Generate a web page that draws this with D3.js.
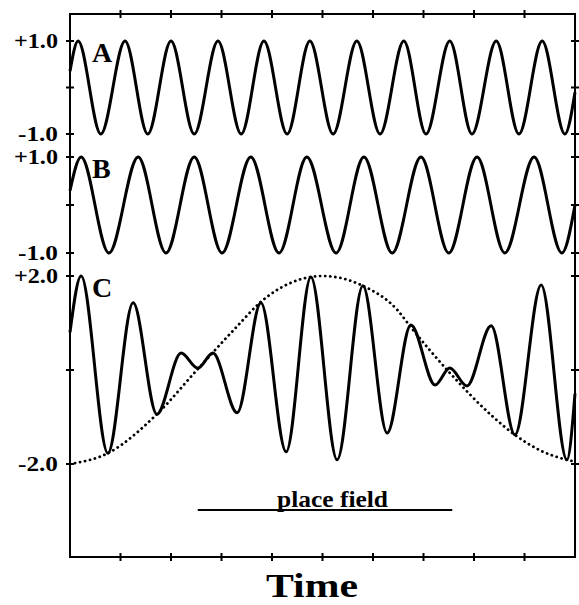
<!DOCTYPE html>
<html>
<head>
<meta charset="utf-8">
<script src="https://cdn.jsdelivr.net/npm/d3@7"></script>
<style>
  html, body { margin: 0; padding: 0; background: #fff; }
  svg { display: block; }
  text { font-family: "Liberation Serif", "Times New Roman", serif; font-weight: bold; fill: #000; }
</style>
</head>
<body>
<svg id="chart" width="579" height="605"></svg>
<script>
// Time runs 0..10 across the frame; ticks at every unit.
const timeTicks = [1, 2, 3, 4, 5, 6, 7, 8, 9];

// Oscillation A: start, alternating peaks/troughs, end (time, value)
const waveATime  = [0, 0.16, 0.61, 1.09, 1.54, 2.00, 2.46, 2.93, 3.39, 3.84, 4.30, 4.75, 5.21, 5.68, 6.14, 6.61, 7.05, 7.52, 7.96, 8.44, 8.89, 9.35, 9.80, 10];
const waveAValue = [0.35, 1, -1, 1, -1, 1, -1, 1, -1, 1, -1, 1, -1, 1, -1, 1, -1, 1, -1, 1, -1, 1, -1, -0.1];

// Oscillation B: slightly slower rhythm
const waveBTime  = [0, 0.22, 0.77, 1.35, 1.90, 2.46, 3.01, 3.58, 4.14, 4.69, 5.27, 5.82, 6.38, 6.95, 7.50, 8.06, 8.61, 9.19, 9.74, 10];
const waveBValue = [0.3, 1, -1, 1, -1, 1, -1, 1, -1, 1, -1, 1, -1, 1, -1, 1, -1, 1, -1, 0.0];

// Summed signal C (A + B): extrema of the beating pattern
const waveCTime  = [0, 0.22, 0.75, 1.25, 1.72, 2.20, 2.53, 2.83, 3.31, 3.78, 4.28, 4.77, 5.29, 5.80, 6.28, 6.75, 7.23, 7.52, 7.86, 8.34, 8.81, 9.33, 9.84, 10];
const waveCValue = [0.8, 2.0, -1.77, 1.43, -0.94, 0.36, 0.04, 0.36, -0.91, 1.43, -1.74, 1.98, -1.91, 1.79, -1.34, 0.96, -0.32, 0.04, -0.34, 0.94, -1.38, 1.81, -1.91, -0.5];

// Dotted envelope (place-field profile)
const envTime  = [0, 0.75, 1.72, 2.53, 3.31, 3.78, 4.36, 5.0, 5.80, 6.48, 6.75, 7.52, 8.34, 8.81, 9.33, 9.84, 10];
const envValue = [-2.0, -1.77, -0.94, 0.02, 0.93, 1.45, 1.85, 2.0, 1.79, 1.28, 0.91, -0.06, -0.96, -1.38, -1.72, -1.91, -1.95];

// Place-field bar extent (time units)
const placeField = [2.53, 7.57];

// Per-panel y ticks and labels
const panelATicks = [1, 0, -1];
const panelALabels = ["+1.0", "-1.0"];
const panelBTicks = [1, 0, -1];
const panelBLabels = ["+1.0", "-1.0"];
const panelCTicks = [2, 0, -2];
const panelCLabels = ["+2.0", "-2.0"];

const svg = d3.select("#chart");
const frame = { left: 70, right: 575, top: 14, bottom: 557 };

const x = d3.scaleLinear().domain([0, 10]).range([frame.left, frame.right]);
const yA = d3.scaleLinear().domain([-1, 1]).range([134, 41]);
const yB = d3.scaleLinear().domain([-1, 1]).range([253, 157]);
const yC = d3.scaleLinear().domain([-2, 2]).range([464, 276]);

function pairs(ts, vs) { return ts.map((t, i) => [t, vs[i]]); }

function drawWave(ts, vs, y, cls) {
  const line = d3.line().x(d => x(d[0])).y(d => y(d[1])).curve(d3.curveMonotoneX);
  return svg.append("path")
    .datum(pairs(ts, vs))
    .attr("class", cls)
    .attr("d", line)
    .attr("fill", "none")
    .attr("stroke", "#000")
    .attr("stroke-linejoin", "round");
}

// Frame
svg.append("rect")
  .attr("x", frame.left).attr("y", frame.top)
  .attr("width", frame.right - frame.left).attr("height", frame.bottom - frame.top)
  .attr("fill", "none").attr("stroke", "#000").attr("stroke-width", 2);

// Top and bottom time ticks (crossing the frame)
svg.append("g").selectAll("line").data(timeTicks).join("line")
  .attr("x1", d => x(d)).attr("x2", d => x(d))
  .attr("y1", frame.top - 4).attr("y2", frame.top + 4)
  .attr("stroke", "#000").attr("stroke-width", 2);
svg.append("g").selectAll("line").data(timeTicks).join("line")
  .attr("x1", d => x(d)).attr("x2", d => x(d))
  .attr("y1", frame.bottom - 4).attr("y2", frame.bottom + 4)
  .attr("stroke", "#000").attr("stroke-width", 2);

// Side ticks for each panel, on both vertical edges
function sideTicks(ticks, y) {
  [frame.left, frame.right].forEach(ex => {
    svg.append("g").selectAll("line").data(ticks).join("line")
      .attr("x1", ex - 4).attr("x2", ex + 4)
      .attr("y1", d => y(d)).attr("y2", d => y(d))
      .attr("stroke", "#000").attr("stroke-width", 2);
  });
}
sideTicks(panelATicks, yA);
sideTicks(panelBTicks, yB);
sideTicks(panelCTicks, yC);

// Value labels at the extremes of each panel
function sideLabels(ticks, labels, y) {
  const ends = [ticks[0], ticks[ticks.length - 1]];
  svg.append("g").selectAll("text").data(ends).join("text")
    .attr("x", 58)
    .attr("y", d => y(d) + 7)
    .attr("text-anchor", "end")
    .attr("font-size", 22)
    .attr("textLength", (d, i) => labels[i].startsWith("+") ? 44 : 40)
    .attr("lengthAdjust", "spacingAndGlyphs")
    .text((d, i) => labels[i]);
}
sideLabels(panelATicks, panelALabels, yA);
sideLabels(panelBTicks, panelBLabels, yB);
sideLabels(panelCTicks, panelCLabels, yC);

// Envelope (dotted)
svg.append("path")
  .datum(pairs(envTime, envValue))
  .attr("d", d3.line().x(d => x(d[0])).y(d => yC(d[1])).curve(d3.curveMonotoneX))
  .attr("fill", "none")
  .attr("stroke", "#000")
  .attr("stroke-width", 2.8)
  .attr("stroke-linecap", "round")
  .attr("stroke-dasharray", "0.1,5");

// Waveforms
drawWave(waveATime, waveAValue, yA, "wave-a").attr("stroke-width", 3);
drawWave(waveBTime, waveBValue, yB, "wave-b").attr("stroke-width", 3);
drawWave(waveCTime, waveCValue, yC, "wave-c").attr("stroke-width", 3);

// Panel letters
const panelLetters = [["A", 62], ["B", 178], ["C", 297]];
svg.append("g").selectAll("text").data(panelLetters).join("text")
  .attr("x", 92).attr("y", d => d[1])
  .attr("font-size", 28)
  .text(d => d[0]);

// Place field bar and label
svg.append("line")
  .attr("x1", x(placeField[0])).attr("x2", x(placeField[1]))
  .attr("y1", 510).attr("y2", 510)
  .attr("stroke", "#000").attr("stroke-width", 2);
svg.append("text")
  .attr("x", 277).attr("y", 507)
  .attr("font-size", 24)
  .attr("textLength", 111)
  .attr("lengthAdjust", "spacingAndGlyphs")
  .text("place field");

// Axis title
svg.append("text")
  .attr("x", 266).attr("y", 597)
  .attr("font-size", 34)
  .attr("textLength", 92)
  .attr("lengthAdjust", "spacingAndGlyphs")
  .text("Time");
</script>
</body>
</html>
